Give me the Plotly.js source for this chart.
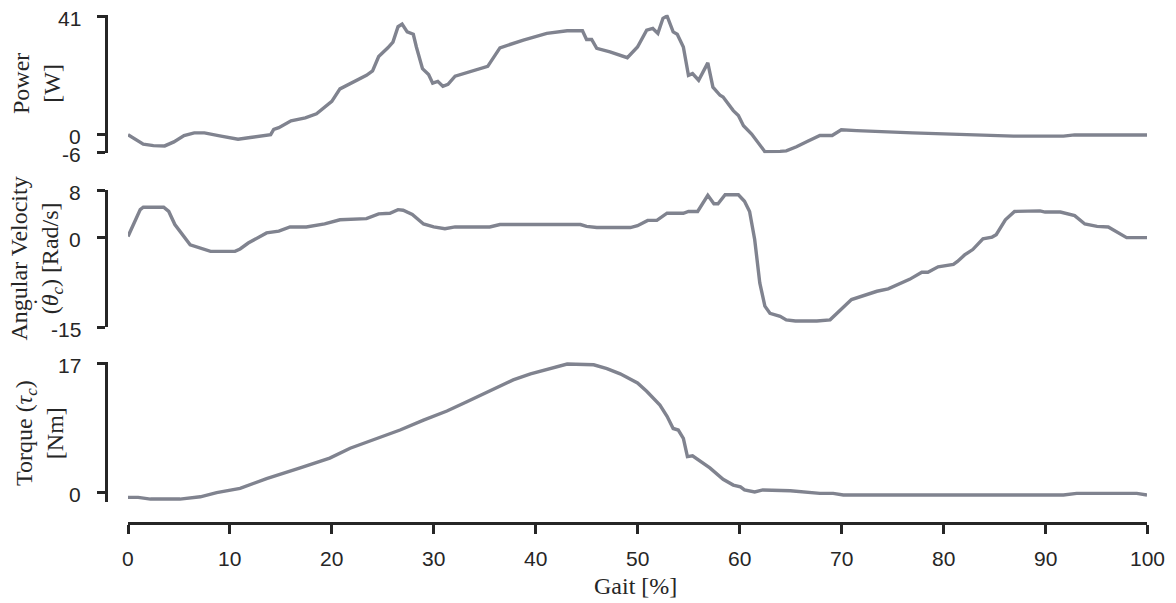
<!DOCTYPE html>
<html>
<head>
<meta charset="utf-8">
<script src="https://cdn.plot.ly/plotly-3.0.1.min.js"></script>
<style>html,body{margin:0;padding:0;background:#fff;}#chart{width:1176px;height:603px;}</style>
</head>
<body>
<div id="chart"></div>
<script>
// Power [W]
const powerGait = [0,1,1.5,2.5,3.6,4.5,5.5,6.5,7.5,9,10.8,12,13.6,14,14.3,14.8,16,17.4,18.5,19.3,20,20.8,22,23.4,24,24.6,25.5,26,26.5,26.9,27.4,28,28.3,28.9,29.5,29.9,30.4,30.9,31.4,32.1,35.3,36.5,38.8,41.1,43.1,44.6,45,45.5,46,47.3,49,50,50.9,51.5,52,52.5,52.9,53.5,53.9,54.5,55,55.4,56,56.9,57.4,58.1,58.4,59.4,59.9,60.4,61.2,62.5,64,64.6,65.6,66.1,66.7,67.9,69.1,70,71.5,77,81.4,86.9,91.8,92.9,100];
const powerVals = [0,-2.2,-3.3,-3.8,-3.9,-2.5,-0.3,0.6,0.6,-0.4,-1.6,-1,-0.3,0,1.8,2.4,4.8,5.8,7.2,9.4,11.5,15.8,18,20.5,22,27,30,32,37.3,38.2,35.5,34.7,30.3,22.8,20.8,17.8,18.4,16.7,17.4,20.2,23.6,30,32.7,35,35.9,35.9,32.9,32.9,29.8,28.6,26.6,30.3,36.1,36.7,35,40.2,41,35.5,34.7,30.3,20.5,21.1,18.8,24.8,16.4,13.6,13,8.3,6.6,3.1,0.2,-5.9,-5.8,-5.6,-4.2,-3.2,-2.3,-0.3,-0.3,1.7,1.4,0.6,0.2,-0.5,-0.5,-0.1,-0.1];

// Angular velocity [Rad/s]
const velGait = [0,1.2,1.5,3.5,4,4.6,6.1,8.1,10.5,11,11.8,13.6,14.8,15.9,17.5,19.3,20.8,23.4,24.6,25.7,26.5,27,27.9,29,30,31.1,32.1,35.5,36.5,44.4,45,46,49.3,50,51,51.9,52.9,54.5,55,55.9,56.9,57.5,57.9,58.6,59.9,60.5,61,61.5,62,62.5,63,64,64.6,65.5,67.6,68.9,71,72.2,73.5,74.6,75.8,76.7,77.9,78.5,79.5,81,81.4,82.1,82.9,83.9,84.8,85.2,86.1,87,89.5,90,91.5,92.9,93.9,95.1,96.2,98,100];
const velVals = [0.2,4.7,5.1,5.1,4.4,2.2,-1.2,-2.3,-2.3,-1.9,-0.9,0.8,1.1,1.8,1.8,2.3,3.0,3.2,4.0,4.1,4.7,4.6,3.9,2.3,1.8,1.5,1.8,1.8,2.2,2.2,1.9,1.7,1.7,2.0,2.9,2.9,4.1,4.1,4.4,4.4,7.1,5.7,5.7,7.2,7.2,6.1,4.4,-0.3,-7.6,-11.5,-12.7,-13.2,-13.8,-14,-14,-13.8,-10.4,-9.7,-9.0,-8.6,-7.6,-7.0,-5.8,-5.8,-4.9,-4.5,-4.0,-2.9,-2.0,-0.2,0.1,0.5,3.0,4.4,4.5,4.3,4.3,3.7,2.3,1.9,1.8,0,0];

// Torque [Nm]
const torqueGait = [0,1,2.2,5.1,7.1,8.7,11,13.6,16.9,19.8,21.8,24.1,26.7,29,31.3,33.2,35.5,37.8,39.5,41.1,43.1,45.7,47,48.3,50,50.9,52.2,52.9,53.5,54,54.5,54.9,55.4,57.1,58.4,59.4,60.1,60.5,61.5,62.3,65,67.9,69.2,70.2,91.8,93.1,99,100];
const torqueVals = [-0.57,-0.57,-0.8,-0.8,-0.5,0.05,0.6,1.9,3.3,4.6,5.9,7.0,8.3,9.6,10.8,12.0,13.5,14.9,15.7,16.3,17.0,16.9,16.4,15.7,14.5,13.4,11.6,10.1,8.5,8.3,7.2,4.8,4.9,3.3,1.8,1.05,0.8,0.4,0.13,0.4,0.3,-0.05,-0.05,-0.26,-0.26,-0.05,-0.05,-0.26];

const xTicks = [0,10,20,30,40,50,60,70,80,90,100];
const xTickText = ['0','10','20','30','40','50','60','70','80','90','100'];
const powerTicks = [-6,0,41], powerTickText = ['-6','0','41'];
const velTicks = [-15,0,8], velTickText = ['-15','0','8'];
const torqueTicks = [0,17], torqueTickText = ['0','17'];

const lineColor = '#80838f';
const axColor = '#262626';
const tickFont = {family:'Liberation Sans, Arial, sans-serif', size:21, color:axColor};
const serif = {family:'Liberation Serif, Times New Roman, serif', size:24, color:axColor};

const traces = [
  {x:powerGait, y:powerVals, xaxis:'x', yaxis:'y3', mode:'lines', line:{color:lineColor, width:3.4}, hoverinfo:'skip'},
  {x:velGait, y:velVals, xaxis:'x', yaxis:'y2', mode:'lines', line:{color:lineColor, width:3.4}, hoverinfo:'skip'},
  {x:torqueGait, y:torqueVals, xaxis:'x', yaxis:'y', mode:'lines', line:{color:lineColor, width:3.4}, hoverinfo:'skip'}
];

function yax(domain, range, vals){
  return {domain:domain, range:range, anchor:'free', position:0, tickmode:'array', tickvals:vals, showticklabels:false,
    showline:true, linecolor:axColor, linewidth:3, ticks:'outside', ticklen:8, tickwidth:3, tickcolor:axColor,
    showgrid:false, zeroline:false, fixedrange:true};
}

const H = 516;   // plot-area height in px (paper bottom at y=530)
const W = 1041;  // plot-area width in px (paper left at x=106)

// tick labels placed through the axes' own scales
const tickLabels = [];
function yLabels(yref, vals, text){
  vals.forEach((v,i) => tickLabels.push({text:text[i], xref:'paper', yref:yref, x:-23/W, y:v,
    xanchor:'right', yanchor:'middle', yshift:-2, showarrow:false, font:tickFont}));
}
yLabels('y3', powerTicks, powerTickText);
yLabels('y2', velTicks, velTickText);
yLabels('y', torqueTicks, torqueTickText);
xTicks.forEach((v,i) => tickLabels.push({text:xTickText[i], xref:'x', yref:'paper', x:v, y:(530-558)/H,
  xanchor:'center', yanchor:'middle', showarrow:false, font:tickFont}));

const layout = {
  width:1176, height:603,
  margin:{l:106, r:29, t:14, b:73},
  paper_bgcolor:'#fff', plot_bgcolor:'#fff',
  showlegend:false,
  xaxis:{domain:[22/W,1], range:[0,100], anchor:'free', position:7/H, tickmode:'array', tickvals:xTicks,
    showticklabels:false,
    showline:true, linecolor:axColor, linewidth:3, ticks:'outside', ticklen:9, tickwidth:3, tickcolor:axColor,
    showgrid:false, zeroline:false, fixedrange:true},
  yaxis3: yax([0.73031,0.99837], [-6.4,41.4], powerTicks),
  yaxis2: yax([0.39341,0.65891], [-15,8], velTicks),
  yaxis: yax([0.05426,0.32539], [-1.186,17.25], torqueTicks),
  annotations:tickLabels.concat([
    {text:'Power<br>[W]', xref:'paper', yref:'paper', x:-70/W, y:(530-84)/H, xanchor:'center', yanchor:'middle', textangle:-90, showarrow:false, font:serif},
    {text:'Angular Velocity<br>(<i>θ</i><sub><i>c</i></sub>) [Rad/s]', xref:'paper', yref:'paper', x:-70/W, y:(530-258.5)/H, xanchor:'center', yanchor:'middle', textangle:-90, showarrow:false, font:serif},
    {text:'·', xref:'paper', yref:'paper', x:(35-106)/W, y:(530-301)/H, xanchor:'center', yanchor:'middle', showarrow:false, font:{family:'Liberation Serif', size:22, color:axColor}},
    {text:'Torque (<i>τ</i><sub><i>c</i></sub>)<br>[Nm]', xref:'paper', yref:'paper', x:-67/W, y:(530-433)/H, xanchor:'center', yanchor:'middle', textangle:-90, showarrow:false, font:serif},
    {text:'Gait [%]', xref:'paper', yref:'paper', x:(635-106)/W, y:(530-586)/H, xanchor:'center', yanchor:'middle', showarrow:false, font:serif}
  ])
};

Plotly.newPlot('chart', traces, layout, {displayModeBar:false, staticPlot:true});
</script>
</body>
</html>
